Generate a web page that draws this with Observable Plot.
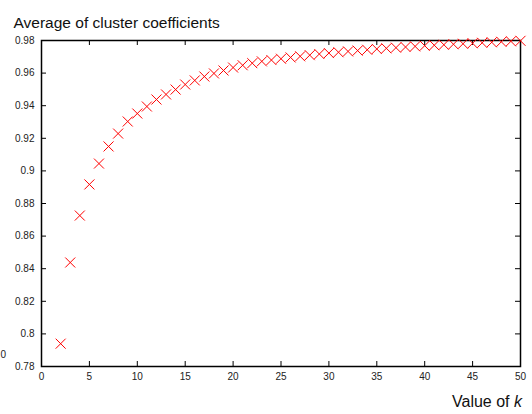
<!DOCTYPE html>
<html><head><meta charset="utf-8">
<script src="https://cdn.jsdelivr.net/npm/d3@7"></script>
<script src="https://cdn.jsdelivr.net/npm/@observablehq/plot@0.6"></script>
<style>
body{margin:0;background:#fff}
svg{font-family:"Liberation Sans",Arial,sans-serif}
</style>
</head><body><div id="chart"></div>
<script>
const kValues = [2,3,4,5,6,7,8,9,10,11,12,13,14,15,16,17,18,19,20,21,22,23,24,25,26,27,28,29,30,31,32,33,34,35,36,37,38,39,40,41,42,43,44,45,46,47,48,49,50];
const coefficients = [0.794,0.8438,0.8726,0.8917,0.9045,0.915,0.9229,0.9303,0.9352,0.9395,0.9438,0.9469,0.9499,0.953,0.9555,0.9579,0.9598,0.9616,0.9634,0.9648,0.9661,0.9672,0.968,0.9688,0.9696,0.9703,0.971,0.9717,0.9723,0.9728,0.9733,0.9738,0.9743,0.9748,0.9752,0.9756,0.976,0.9764,0.9768,0.9771,0.9774,0.9777,0.978,0.9783,0.9786,0.9789,0.9792,0.9795,0.9798];
const xTicks = [0,5,10,15,20,25,30,35,40,45,50];
const yTicks = [0.78,0.8,0.82,0.84,0.86,0.88,0.9,0.92,0.94,0.96,0.98];
const titleText = "Average of cluster coefficients";
const xLabelText = "Value of ";
const xLabelVar = "k";
const yLabelFragment = "0";
const markerColor = "#ff0000";

const points = kValues.map((k, i) => ({k, c: coefficients[i]}));
const half = 5;

const crossSymbol = {
  draw(context, size) {
    const h = Math.sqrt(size / Math.PI);
    context.moveTo(-h, -h); context.lineTo(h, h);
    context.moveTo(h, -h); context.lineTo(-h, h);
  }
};

const W = 532, H = 414, mL = 41, mR = 12, mT = 40, mB = 48;
const fw = W - mL - mR, fh = H - mT - mB, tl = 5;

const chart = Plot.plot({
  width: W, height: H,
  marginLeft: mL, marginRight: mR, marginTop: mT, marginBottom: mB,
  style: {fontFamily: "Liberation Sans, Arial, sans-serif", background: "#fff", overflow: "visible"},
  x: {domain: [0, 50]},
  y: {domain: [0.78, 0.98]},
  marks: [
    Plot.axisX({ticks: xTicks, tickSize: 0, tickPadding: 6, fontSize: 10, label: null, fill: "#222"}),
    Plot.axisY({ticks: yTicks, tickSize: 0, tickPadding: 7, fontSize: 10, label: null, fill: "#222", tickFormat: d => String(+d.toFixed(2))}),
    Plot.tickX(xTicks, {x: d => d, insetTop: fh - tl, stroke: "black", strokeWidth: 1}),
    Plot.tickX(xTicks, {x: d => d, insetBottom: fh - tl, stroke: "black", strokeWidth: 1}),
    Plot.tickY(yTicks, {y: d => d, insetRight: fw - tl, stroke: "black", strokeWidth: 1}),
    Plot.tickY(yTicks, {y: d => d, insetLeft: fw - tl, stroke: "black", strokeWidth: 1}),
    Plot.frame({stroke: "black", strokeWidth: 1.5}),
    Plot.dot(points, {x: "k", y: "c", symbol: crossSymbol, stroke: markerColor, fill: "none", strokeWidth: 1, r: half, className: "cross"}),
    Plot.text([titleText], {frameAnchor: "top-left", dx: 13 - mL, dy: 16 - mT, textAnchor: "start", fontSize: 15.5, fill: "#111"}),
    Plot.text([yLabelFragment], {frameAnchor: "bottom-left", dx: -mL, dy: 357 - (H - mB), textAnchor: "start", fontSize: 10, fill: "#222"})
  ]
});

const svg = d3.select(chart);
// bake each marker's translation into its own path so every path is distinct
svg.selectAll("g.cross path").each(function() {
  const el = d3.select(this);
  const tr = el.attr("transform") || "";
  const m = tr.match(/translate\(\s*([-\d.e]+)[ ,]+([-\d.e]+)\s*\)/);
  if (!m) return;
  const cx = +m[1], cy = +m[2];
  const p = d3.path();
  p.moveTo(cx - half, cy - half); p.lineTo(cx + half, cy + half);
  p.moveTo(cx + half, cy - half); p.lineTo(cx - half, cy + half);
  el.attr("d", p.toString()).attr("transform", null).attr("stroke", markerColor).attr("fill", "none");
});
const t = svg.append("text")
  .attr("x", 522).attr("y", 407)
  .attr("text-anchor", "end")
  .attr("font-size", 16)
  .attr("fill", "#111");
t.append("tspan").text(xLabelText);
t.append("tspan").attr("font-style", "italic").text(xLabelVar);

document.getElementById("chart").appendChild(chart);
</script>
</body></html>
